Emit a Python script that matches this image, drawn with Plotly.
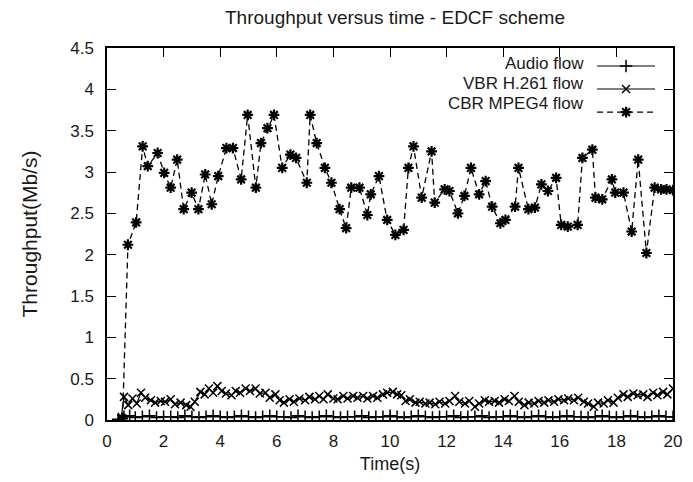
import plotly.graph_objects as go

# CBR MPEG4 flow: sample times (s) and throughput (Mb/s)
cbr_time = [0.55, 0.74, 1.03, 1.26, 1.44, 1.79, 2.02, 2.25, 2.48, 2.71, 2.99, 3.23, 3.47, 3.70,
            3.93, 4.22, 4.45, 4.74, 4.97, 5.26, 5.44, 5.67, 5.90, 6.19, 6.48, 6.68, 7.06, 7.18,
            7.41, 7.70, 7.93, 8.22, 8.45, 8.63, 8.92, 9.20, 9.32, 9.61, 9.90, 10.19, 10.48,
            10.65, 10.83, 11.12, 11.47, 11.58, 11.93, 12.10, 12.40, 12.63, 12.86, 13.15, 13.38,
            13.61, 13.90, 14.08, 14.42, 14.54, 14.89, 15.12, 15.35, 15.58, 15.87, 16.05, 16.28,
            16.63, 16.80, 17.15, 17.26, 17.50, 17.84, 17.96, 18.25, 18.54, 18.77, 19.06, 19.35,
            19.58, 19.77, 20.0]
cbr_rate = [0.02, 2.12, 2.39, 3.31, 3.07, 3.23, 2.99, 2.81, 3.15, 2.55, 2.75, 2.55, 2.97, 2.61,
            2.95, 3.29, 3.29, 2.91, 3.69, 2.81, 3.35, 3.53, 3.69, 3.05, 3.21, 3.17, 2.87, 3.69,
            3.35, 3.05, 2.87, 2.55, 2.32, 2.81, 2.81, 2.48, 2.73, 2.95, 2.42, 2.24, 2.30,
            3.05, 3.31, 2.69, 3.25, 2.63, 2.79, 2.77, 2.50, 2.71, 3.05, 2.73, 2.89,
            2.58, 2.38, 2.42, 2.58, 3.05, 2.55, 2.57, 2.85, 2.77, 2.93, 2.36, 2.34,
            2.36, 3.17, 3.27, 2.69, 2.67, 2.91, 2.75, 2.75, 2.28, 3.15, 2.02, 2.81,
            2.79, 2.79, 2.78]

# VBR H.261 flow
vbr_time = [0.5, 0.6, 0.75, 0.9, 1.05, 1.2, 1.35, 1.55, 1.7, 1.9, 2.05, 2.25, 2.4, 2.6, 2.8,
            2.95, 3.1, 3.3, 3.45, 3.6, 3.75, 3.9, 4.05, 4.2, 4.4, 4.55, 4.7, 4.9, 5.05, 5.25,
            5.4, 5.6, 5.75, 5.95, 6.1, 6.25, 6.45, 6.6, 6.8, 7.0, 7.15, 7.35, 7.5, 7.65, 7.8,
            8.0, 8.15, 8.35, 8.5, 8.7, 8.85, 9.05, 9.2, 9.4, 9.55, 9.75, 9.9, 10.1, 10.25,
            10.4, 10.55, 10.7, 10.9, 11.05, 11.25, 11.4, 11.6, 11.75, 11.95, 12.1, 12.3,
            12.45, 12.65, 12.8, 13.0, 13.15, 13.35, 13.5, 13.7, 13.85, 14.05, 14.2, 14.4,
            14.55, 14.75, 14.9, 15.1, 15.25, 15.45, 15.6, 15.8, 15.95, 16.15, 16.3, 16.5,
            16.65, 16.85, 17.0, 17.2, 17.35, 17.55, 17.7, 17.9, 18.05, 18.25, 18.4, 18.6,
            18.75, 18.95, 19.1, 19.3, 19.45, 19.65, 19.8, 20.0]
vbr_rate = [0.02, 0.28, 0.18, 0.26, 0.20, 0.33, 0.27, 0.24, 0.21, 0.23, 0.22, 0.25, 0.19, 0.21, 0.18,
            0.16, 0.22, 0.34, 0.31, 0.38, 0.33, 0.41, 0.35, 0.32, 0.30, 0.35, 0.33, 0.38, 0.35, 0.38,
            0.32, 0.33, 0.27, 0.31, 0.24, 0.21, 0.25, 0.22, 0.26, 0.24, 0.28, 0.25, 0.29, 0.25, 0.31,
            0.26, 0.25, 0.29, 0.26, 0.29, 0.27, 0.29, 0.26, 0.29, 0.27, 0.31, 0.33, 0.34, 0.31,
            0.30, 0.23, 0.25, 0.21, 0.22, 0.20, 0.21, 0.19, 0.22, 0.20, 0.23, 0.29,
            0.22, 0.20, 0.23, 0.16, 0.20, 0.24, 0.22, 0.23, 0.21, 0.25, 0.23, 0.29,
            0.22, 0.18, 0.21, 0.20, 0.23, 0.21, 0.24, 0.22, 0.25, 0.24, 0.26, 0.24,
            0.27, 0.22, 0.20, 0.16, 0.21, 0.20, 0.24, 0.21, 0.27, 0.31, 0.28, 0.32,
            0.30, 0.31, 0.28, 0.33, 0.30, 0.34, 0.31, 0.38]

# Audio flow
audio_time = [0.4, 0.6, 0.8, 1.0, 1.25, 1.5, 1.75, 2.0, 2.25, 2.5, 2.75, 3.0, 3.25, 3.5, 3.75,
              4.0, 4.25, 4.5, 4.75, 5.0, 5.25, 5.5, 5.75, 6.0, 6.25, 6.5, 6.75, 7.0, 7.25, 7.5,
              7.75, 8.0, 8.25, 8.5, 8.75, 9.0, 9.25, 9.5, 9.75, 10.0, 10.25, 10.5, 10.75, 11.0,
              11.25, 11.5, 11.75, 12.0, 12.25, 12.5, 12.75, 13.0, 13.25, 13.5, 13.75, 14.0,
              14.25, 14.5, 14.75, 15.0, 15.25, 15.5, 15.75, 16.0, 16.25, 16.5, 16.75, 17.0,
              17.25, 17.5, 17.75, 18.0, 18.25, 18.5, 18.75, 19.0, 19.25, 19.5, 19.75, 20.0]
audio_rate = [0.01, 0.04, 0.05, 0.03, 0.04, 0.05, 0.03, 0.04, 0.04, 0.03, 0.05, 0.04, 0.03, 0.04, 0.05,
              0.04, 0.03, 0.04, 0.05, 0.04, 0.03, 0.04, 0.05, 0.04, 0.04, 0.03, 0.05, 0.04, 0.03, 0.04,
              0.05, 0.04, 0.03, 0.04, 0.04, 0.05, 0.03, 0.04, 0.04, 0.05, 0.04, 0.03, 0.04, 0.05,
              0.04, 0.03, 0.04, 0.04, 0.05, 0.03, 0.04, 0.04, 0.05, 0.03, 0.04, 0.04,
              0.05, 0.04, 0.03, 0.04, 0.05, 0.04, 0.03, 0.04, 0.05, 0.04, 0.04, 0.03,
              0.04, 0.05, 0.04, 0.03, 0.04, 0.05, 0.04, 0.03, 0.04, 0.05, 0.04, 0.04]

series_names = ["Audio flow", "VBR H.261 flow", "CBR MPEG4 flow"]

INK = "#1a1a1a"
FONT = "Liberation Sans, Arial, sans-serif"

fig = go.Figure()

fig.add_trace(go.Scatter(
    x=audio_time, y=audio_rate, mode="lines+markers", name=" ",
    line=dict(color="black", width=1.2),
    marker=dict(symbol="cross-thin-open", size=9, line=dict(color="black", width=1.5)),
))
fig.add_trace(go.Scatter(
    x=vbr_time, y=vbr_rate, mode="lines+markers", name=" ",
    line=dict(color="black", width=1.2),
    marker=dict(symbol="x-thin-open", size=8, line=dict(color="black", width=1.5)),
))
fig.add_trace(go.Scatter(
    x=cbr_time, y=cbr_rate, mode="lines+markers", name=" ",
    line=dict(color="black", width=1.3, dash="6px,4px"),
    marker=dict(symbol="asterisk-open", size=9, line=dict(color="black", width=2.2)),
))

# key labels, right-aligned to the left of the legend samples
KEY_TOP = 0.957
KEY_STEP = 0.0536
for i, label in enumerate(series_names):
    fig.add_annotation(
        xref="paper", yref="paper", x=0.846, y=KEY_TOP - i * KEY_STEP,
        xanchor="right", yanchor="middle", text=label, showarrow=False,
        font=dict(family=FONT, size=17, color=INK),
    )

axis_common = dict(
    showgrid=False, zeroline=False, showline=True, linecolor="black", linewidth=1.5,
    mirror="ticks", ticks="inside", ticklen=9, tickwidth=1.3, tickcolor="black",
    tickfont=dict(family=FONT, size=17, color=INK),
)

fig.update_layout(
    width=693, height=482,
    margin=dict(l=107, r=11, t=48, b=61),
    paper_bgcolor="white", plot_bgcolor="white",
    title=dict(text="Throughput versus time - EDCF scheme", x=0.57, xanchor="center",
               y=0.963, yanchor="middle", font=dict(family=FONT, size=19, color=INK)),
    xaxis=dict(range=[0, 20], dtick=2, tick0=0, ticklabelstandoff=5,
               title=dict(text="Time(s)", font=dict(family=FONT, size=18, color=INK), standoff=7),
               **axis_common),
    yaxis=dict(range=[0, 4.5], dtick=0.5, tick0=0, ticklabelstandoff=8,
               title=dict(text="Throughput(Mb/s)", font=dict(family=FONT, size=21, color=INK), standoff=27),
               **axis_common),
    showlegend=True,
    legend=dict(x=0.857, y=0.996, xanchor="left", yanchor="top", bgcolor="rgba(0,0,0,0)",
                itemwidth=58, tracegroupgap=0, font=dict(family=FONT, size=15.4),
                itemclick=False, itemdoubleclick=False),
)

fig.write_html("out.html")
